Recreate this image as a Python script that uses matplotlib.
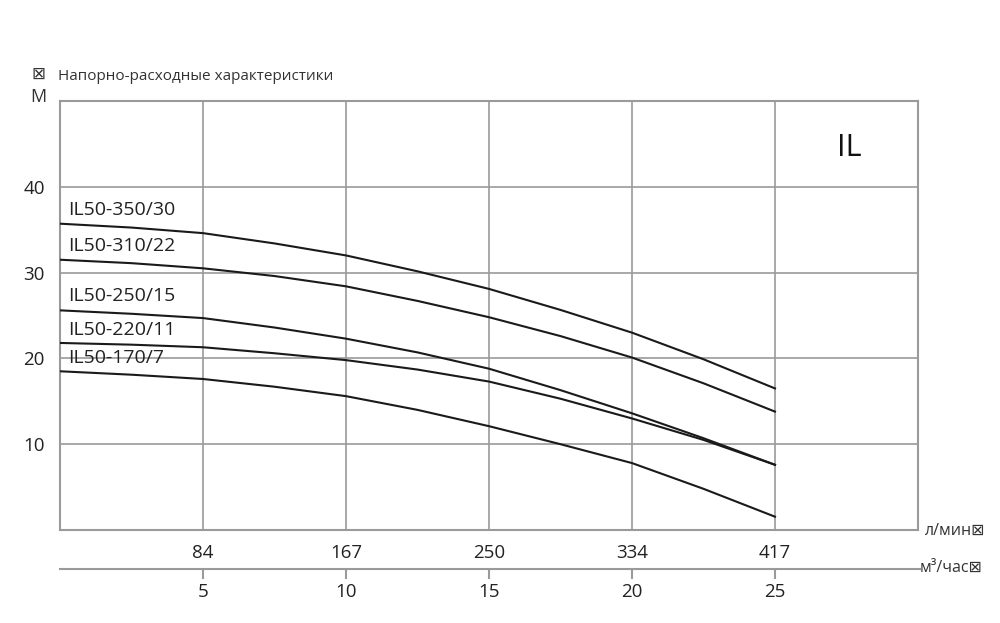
import matplotlib
matplotlib.use("Agg")
import matplotlib.pyplot as plt

plt.rcParams['font.family'] = ['Open Sans', 'DejaVu Sans']

# flow (m3/h) at which heads were read
flow = [0, 2.5, 5, 7.5, 10, 12.5, 15, 17.5, 20, 22.5, 25]
head_350_30 = [35.7, 35.25, 34.6, 33.4, 32.0, 30.15, 28.1, 25.65, 23.0, 19.9, 16.5]
head_310_22 = [31.5, 31.1, 30.5, 29.6, 28.4, 26.7, 24.8, 22.6, 20.1, 17.1, 13.8]
head_250_15 = [25.6, 25.2, 24.7, 23.6, 22.3, 20.7, 18.8, 16.3, 13.6, 10.7, 7.6]
head_220_11 = [21.8, 21.6, 21.3, 20.6, 19.8, 18.7, 17.3, 15.3, 13.0, 10.5, 7.6]
head_170_7 = [18.5, 18.1, 17.6, 16.7, 15.6, 14.0, 12.1, 10.0, 7.8, 4.8, 1.55]

series = [head_350_30, head_310_22, head_250_15, head_220_11, head_170_7]
names = ["IL50-350/30", "IL50-310/22", "IL50-250/15", "IL50-220/11", "IL50-170/7"]
label_y = [37.3, 33.1, 27.3, 23.3, 20.0]

m3h_ticks = [5, 10, 15, 20, 25]
lpm_labels = ["84", "167", "250", "334", "417"]
head_ticks = [10, 20, 30, 40]

GRID = "#9a9a9a"

fig = plt.figure(figsize=(10, 6.23), dpi=100)
ax = fig.add_axes([0.060, 1 - 530 / 623, 0.858, (530 - 101) / 623])
ax.set_xlim(0, 30)
ax.set_ylim(0, 50)

for s in ax.spines.values():
    s.set_color(GRID)
    s.set_linewidth(1.5)

for x in m3h_ticks:
    ax.axvline(x, color=GRID, lw=1.2, zorder=1)
for y in head_ticks:
    ax.axhline(y, color=GRID, lw=1.2, zorder=1)

for s in series:
    ax.plot(flow, s, color="#1a1a1a", lw=1.5, zorder=3, solid_joinstyle="round")

for n, y in zip(names, label_y):
    ax.text(0.3, y, n, fontsize=14, color="#222222", va="center", ha="left", zorder=4)

ax.set_yticks(head_ticks)
ax.set_yticklabels([str(v) for v in head_ticks], fontsize=13.5, color="#222222")
ax.tick_params(axis="y", length=0, pad=11)

ax.set_xticks(m3h_ticks)
ax.set_xticklabels(lpm_labels, fontsize=13.5, color="#222222")
ax.tick_params(axis="x", length=0, pad=10)

ax.text(27.6, 44.5, "IL", fontsize=22, color="#111111", ha="center", va="center")

# second (m3/h) axis
ax2 = fig.add_axes([0.060, 1 - 569 / 623, 0.860, 0.001])
ax2.set_xlim(0, 30 * 0.860 / 0.858)
ax2.set_ylim(0, 1)
for k in ["top", "left", "right"]:
    ax2.spines[k].set_visible(False)
ax2.spines["bottom"].set_color(GRID)
ax2.spines["bottom"].set_linewidth(1.5)
ax2.set_yticks([])
ax2.set_xticks(m3h_ticks)
ax2.set_xticklabels([str(v) for v in m3h_ticks], fontsize=13.5, color="#222222")
ax2.tick_params(axis="x", length=7, width=1.5, color=GRID, pad=3)
ax2.patch.set_visible(False)

# texts
fig.text(38 / 1000, 1 - 75 / 623, "⊠", fontsize=12, ha="center", va="center", color="#333333")
fig.text(38 / 1000, 1 - 97 / 623, "М", fontsize=13, ha="center", va="center", color="#333333")
fig.text(58 / 1000, 1 - 77 / 623, "Напорно-расходные характеристики", fontsize=11,
         ha="left", va="center", color="#333333")
fig.text(925 / 1000, 1 - 531 / 623, "л/мин⊠", fontsize=11.5, ha="left", va="center", color="#333333")
fig.text(920 / 1000, 1 - 568 / 623, "м³/час⊠", fontsize=11.5, ha="left", va="center", color="#333333")

fig.savefig("out.png", dpi=100, facecolor="white")
